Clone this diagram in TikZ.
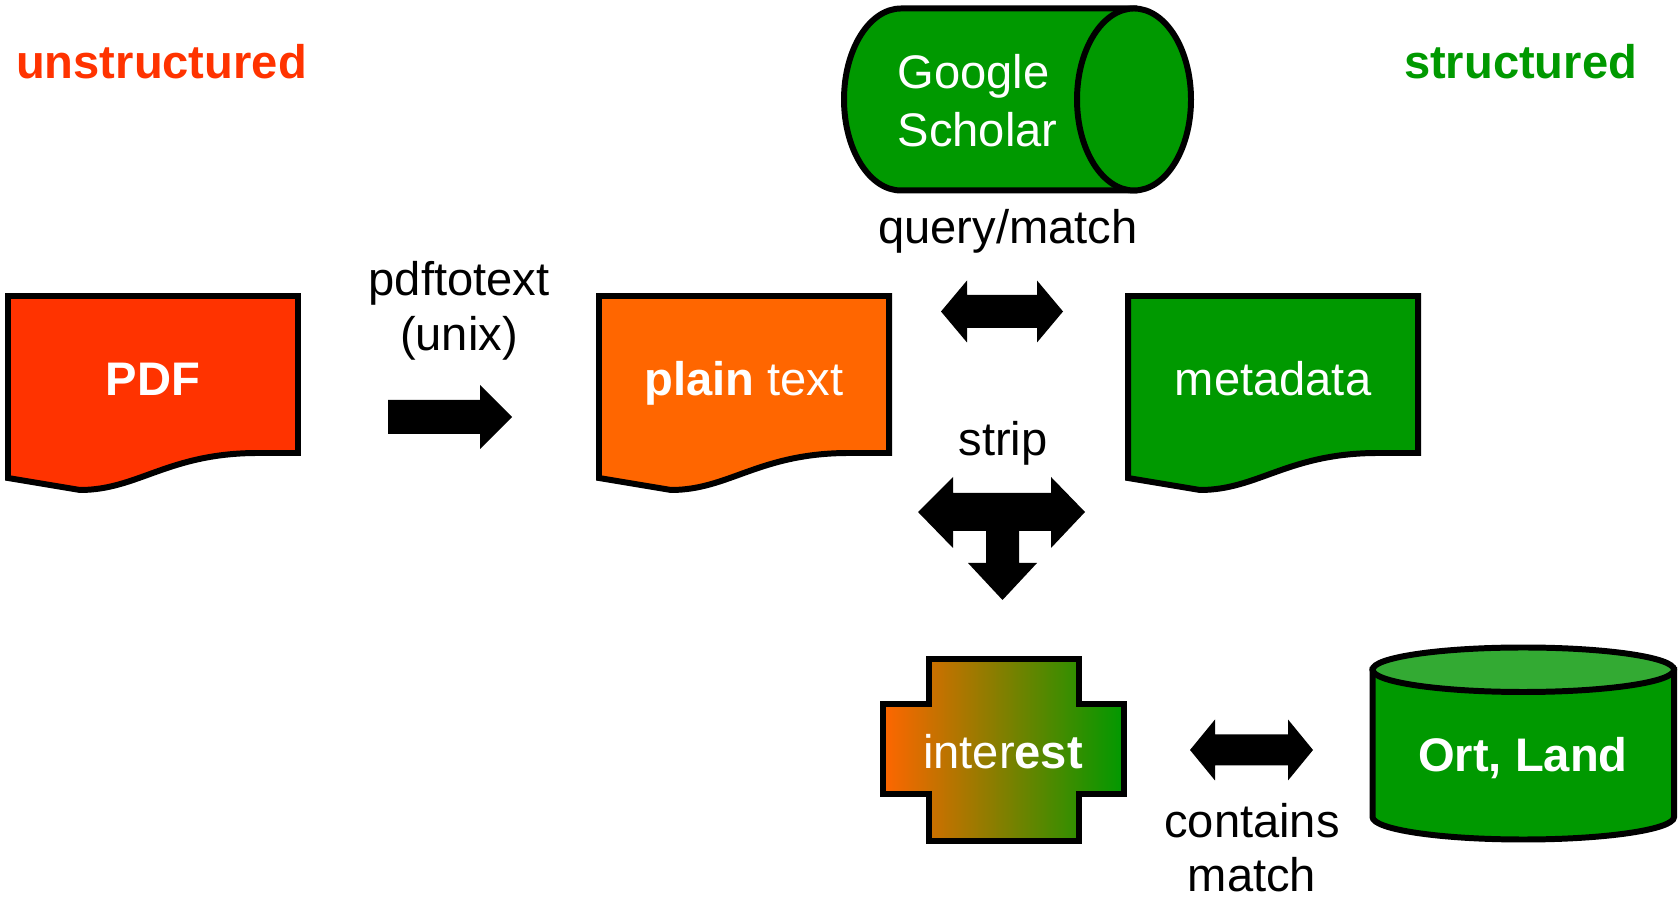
\documentclass[tikz,border=0pt]{standalone}
\usepackage{fontspec}
\setmainfont{Liberation Sans}
\usepackage{tikz}

\definecolor{pdfred}{HTML}{FF3300}
\definecolor{textorange}{HTML}{FF6600}
\definecolor{metagreen}{HTML}{009900}
\definecolor{toplight}{HTML}{33AA33}

\tikzset{
  outline/.style={draw=black, line width=1.7pt},
  heading/.style={font=\fontsize{13.4}{16}\selectfont\bfseries, anchor=base, inner sep=0pt},
  boxtext/.style={text=white, font=\fontsize{13.4}{16}\selectfont, anchor=base, inner sep=0pt},
  plaintext/.style={text=black, font=\fontsize{13.4}{15.9}\selectfont, anchor=base, align=center, inner sep=0pt},
  blockarrow/.style={fill=black},
}

% document outline, #1 = left edge, #2 = fill
\newcommand{\docshape}[2]{%
  \filldraw[outline, fill=#2] (#1,296) -- ({#1+290},296) -- ({#1+290},453) -- ({#1+250},453)
    .. controls ({#1+160},453) and ({#1+130},490) .. ({#1+72},490) -- (#1,478) -- cycle;}

\begin{document}
\begin{tikzpicture}[x=0.01cm, y=-0.01cm]
  \useasboundingbox (0,0) rectangle (1679,898);

  % Headings
  \node[heading, text=pdfred] (unstr) at (161.5,79) {unstructured};
  \node[heading, text=metagreen] (str) at (1520.5,79) {structured};

  % Documents
  \docshape{8}{pdfred}
  \node[boxtext] (pdf) at (153,396) {\textbf{PDF}};
  \docshape{599}{textorange}
  \node[boxtext] (plain) at (744,396) {\textbf{plain} text};
  \docshape{1128}{metagreen}
  \node[boxtext] (meta) at (1273,396) {metadata};

  % pdftotext step
  \node[plaintext] (tool) at (459,351) {pdftotext\\(unix)};
  \fill[blockarrow] (388,400) -- (480,400) -- (480,385) -- (512,417) -- (480,449) -- (480,434) -- (388,434) -- cycle;

  % Google Scholar
  \filldraw[outline, fill=metagreen] (1134,8.5) -- (901,8.5) arc[start angle=270, end angle=90, x radius=57, y radius=91] -- (1134,190.5) -- cycle;
  \filldraw[outline, fill=metagreen] (1134,99.5) ellipse[x radius=57, y radius=91];
  \node[boxtext, anchor=base west, align=left, font=\fontsize{13.4}{16.5}\selectfont] (scholar) at (897,147) {Google\\Scholar};
  \node[plaintext] (query) at (1008,244) {query/match};
  \fill[blockarrow] (941,311.5) -- (967,280.5) -- (967,295) -- (1037,295) -- (1037,280.5) -- (1063,311.5)
    -- (1037,342.5) -- (1037,328) -- (967,328) -- (967,342.5) -- cycle;

  % strip
  \node[plaintext] (strip) at (1003,456) {strip};
  \fill[blockarrow] (918,512) -- (953,477) -- (953,493) -- (1051,493) -- (1051,477) -- (1085,512) -- (1051,548)
    -- (1051,531) -- (1019,531) -- (1019,563) -- (1037,563) -- (1002.5,600) -- (968,563) -- (986,563)
    -- (986,531) -- (953,531) -- (953,548) -- cycle;

  % interest
  \draw[outline, left color=textorange, middle color=textorange!60!metagreen, right color=metagreen]
    (929,659) -- (1079,659) -- (1079,704) -- (1124,704) -- (1124,794) -- (1079,794) -- (1079,841)
    -- (929,841) -- (929,794) -- (883,794) -- (883,704) -- (929,704) -- cycle;
  \node[boxtext] (interest) at (1003,769) {inter\textbf{est}};

  % contains match
  \fill[blockarrow] (1190,750) -- (1215,719.5) -- (1215,734.5) -- (1288,734.5) -- (1288,719.5) -- (1313,750)
    -- (1288,780.5) -- (1288,765.5) -- (1215,765.5) -- (1215,780.5) -- cycle;
  \node[plaintext, font=\fontsize{13.4}{15.6}\selectfont] (contains) at (1252,892) {contains\\match};

  % Ort, Land
  \filldraw[outline, fill=metagreen] (1372.5,669.75) -- (1372.5,817) arc[start angle=180, end angle=0, x radius=150.75, y radius=22.5] -- (1674,669.75) -- cycle;
  \filldraw[outline, fill=toplight] (1523.25,669.75) ellipse[x radius=150.75, y radius=22.25];
  \node[boxtext] (place) at (1523,772) {\textbf{Ort, Land}};
\end{tikzpicture}
\end{document}
